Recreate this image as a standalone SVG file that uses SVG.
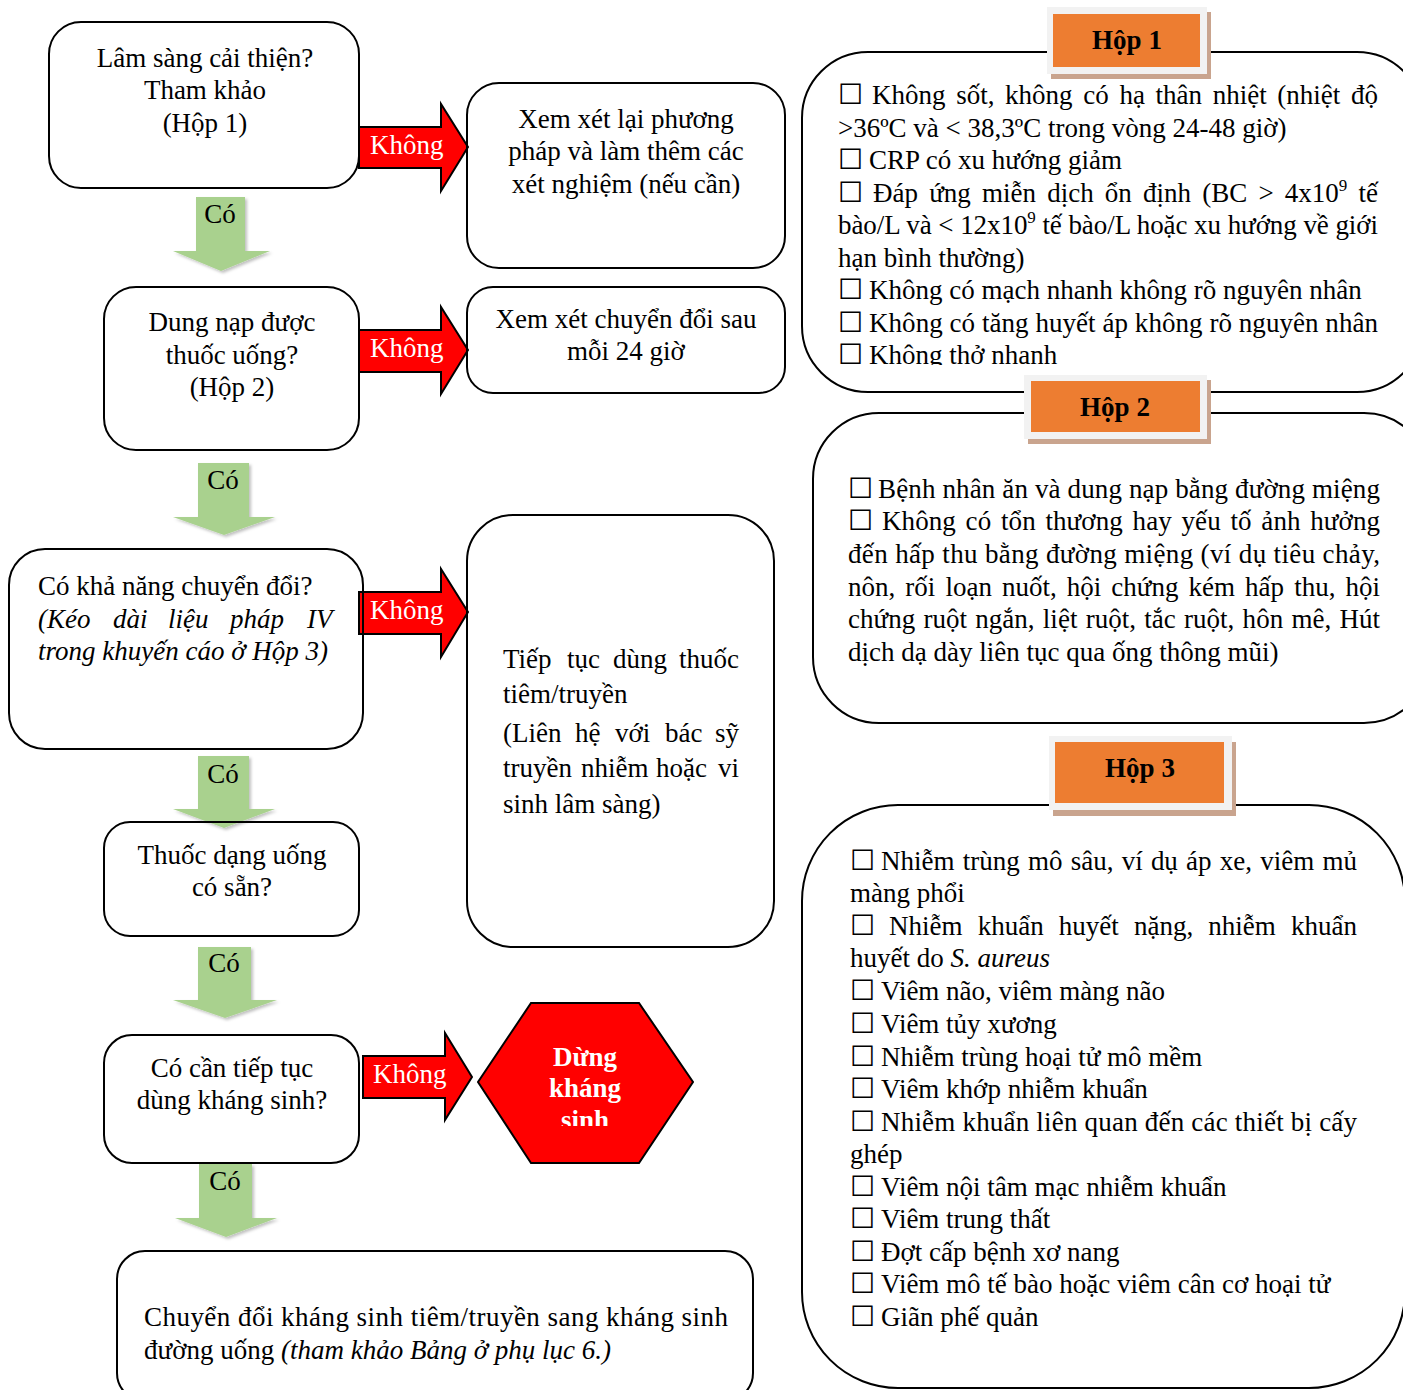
<svg xmlns="http://www.w3.org/2000/svg" width="1403" height="1390" viewBox="0 0 1403 1390">
<defs>
<style>
.t{font-family:'Liberation Serif','Times New Roman',serif;font-size:27px;fill:#000}
.c{text-anchor:middle}
.i{font-style:italic}
.w{fill:#fff}
.b{font-weight:bold}
.cb{font-family:'DejaVu Sans',sans-serif;font-size:28px;fill:#000}
.box{fill:none;stroke:#000;stroke-width:2}
.red{fill:#ff0000;stroke:#000;stroke-width:2;stroke-linejoin:miter}
.green{fill:#a9d18e;filter:url(#sh)}
.lblshadow{fill:#c9a48e}
.lblframe{fill:#f2f2f2}
.lbl{fill:#ed7d31}
</style>
<filter id="sh" x="-20%" y="-20%" width="140%" height="140%">
<feDropShadow dx="2" dy="2" stdDeviation="1.5" flood-color="#000" flood-opacity="0.25"/>
</filter>
<clipPath id="clip1"><rect x="800" y="60" width="603" height="305"/></clipPath>
<clipPath id="clipHex"><rect x="470" y="1000" width="230" height="126"/></clipPath>
</defs>
<rect x="0" y="0" width="1403" height="1390" fill="#fff"/>

<g id="connectors">
<g id="arrow-A-G">
<path class="red" d="M359,127 H441 V104 L468,147 L441,191 V168 H359 Z"/>
<text class="t w" x="370" y="154">Không</text>
</g>
<g id="arrow-B-H">
<path class="red" d="M359,330 H441 V307 L468,350 L441,394 V372 H359 Z"/>
<text class="t w" x="370" y="357">Không</text>
</g>
<g id="arrow-C-I">
<path class="red" d="M359,592 H441 V569 L468,612 L441,657 V634 H359 Z"/>
<text class="t w" x="370" y="619">Không</text>
</g>
<g id="arrow-E-stop">
<path class="red" d="M363,1056 H445 V1033 L472,1077 L445,1120 V1098 H363 Z"/>
<text class="t w" x="373" y="1083">Không</text>
</g>
<g id="arrow-A-B">
<path class="green" d="M196,197 H245 V251 H270 L221,271 L173,251 H196 Z"/>
<text class="t c" x="220" y="223">Có</text>
</g>
<g id="arrow-B-C">
<path class="green" d="M198,463 H249 V517 H275 L224,535 L173,517 H198 Z"/>
<text class="t c" x="223" y="489">Có</text>
</g>
<g id="arrow-C-D">
<path class="green" d="M198,756 H249 V809 H275 L224,828 L173,809 H198 Z"/>
<text class="t c" x="223" y="783">Có</text>
</g>
<g id="arrow-D-E">
<path class="green" d="M198,947 H251 V1000 H277 L225,1018 L173,1000 H198 Z"/>
<text class="t c" x="224" y="972">Có</text>
</g>
<g id="arrow-E-F">
<path class="green" d="M199,1164 H252 V1218 H277 L226,1237 L175,1218 H199 Z"/>
<text class="t c" x="225" y="1190">Có</text>
</g>
</g>

<g id="nodeA">
<rect class="box" x="49" y="22" width="310" height="166" rx="32"/>
<text class="t c" x="205" y="67">Lâm sàng cải thiện?</text>
<text class="t c" x="205" y="99">Tham khảo</text>
<text class="t c" x="205" y="132">(Hộp 1)</text>
</g>

<g id="nodeB">
<rect class="box" x="104" y="287" width="255" height="163" rx="32"/>
<text class="t c" x="232" y="331">Dung nạp được</text>
<text class="t c" x="232" y="364">thuốc uống?</text>
<text class="t c" x="232" y="396">(Hộp 2)</text>
</g>

<g id="nodeC">
<rect class="box" x="9" y="549" width="354" height="200" rx="36"/>
<text class="t" x="38" y="595">Có khả năng chuyển đổi?</text>
<text class="t i" y="628"><tspan x="38">(Kéo</tspan><tspan x="113">dài</tspan><tspan x="168">liệu</tspan><tspan x="230">pháp</tspan><tspan x="307">IV</tspan></text>
<text class="t i" x="38" y="660">trong khuyến cáo ở Hộp 3)</text>
</g>

<g id="nodeD">
<rect class="box" x="104" y="822" width="255" height="114" rx="26"/>
<text class="t c" x="232" y="864">Thuốc dạng uống</text>
<text class="t c" x="232" y="896">có sẵn?</text>
</g>

<g id="nodeE">
<rect class="box" x="104" y="1035" width="255" height="128" rx="28"/>
<text class="t c" x="232" y="1077">Có cần tiếp tục</text>
<text class="t c" x="232" y="1109">dùng kháng sinh?</text>
</g>

<g id="nodeF">
<rect class="box" x="117" y="1251" width="636" height="150" rx="28"/>
<text class="t" x="144" y="1326" textLength="584" lengthAdjust="spacing">Chuyển đổi kháng sinh tiêm/truyền sang kháng sinh</text>
<text class="t" x="144" y="1359">đường uống <tspan class="i">(tham khảo Bảng ở phụ lục 6.)</tspan></text>
</g>

<g id="nodeG">
<rect class="box" x="467" y="83" width="318" height="185" rx="32"/>
<text class="t c" x="626" y="128">Xem xét lại phương</text>
<text class="t c" x="626" y="160">pháp và làm thêm các</text>
<text class="t c" x="626" y="193">xét nghiệm (nếu cần)</text>
</g>

<g id="nodeH">
<rect class="box" x="467" y="287" width="318" height="106" rx="26"/>
<text class="t c" x="626" y="328">Xem xét chuyển đổi sau</text>
<text class="t c" x="626" y="360">mỗi 24 giờ</text>
</g>

<g id="nodeI">
<rect class="box" x="467" y="515" width="307" height="432" rx="46"/>
<text class="t" y="668"><tspan x="503">Tiếp</tspan><tspan x="567">tục</tspan><tspan x="613">dùng</tspan><tspan x="679">thuốc</tspan></text>
<text class="t" x="503" y="703">tiêm/truyền</text>
<text class="t" y="742"><tspan x="503">(Liên</tspan><tspan x="575">hệ</tspan><tspan x="615">với</tspan><tspan x="665">bác</tspan><tspan x="715">sỹ</tspan></text>
<text class="t" y="777"><tspan x="503">truyền</tspan><tspan x="581">nhiễm</tspan><tspan x="656">hoặc</tspan><tspan x="718">vi</tspan></text>
<text class="t" x="503" y="813">sinh lâm sàng)</text>
</g>

<g id="nodeStop">
<polygon points="531,1003 639,1003 693,1082 639,1163 531,1163 478,1082" fill="#ff0000" stroke="#000" stroke-width="2"/>
<g clip-path="url(#clipHex)">
<text class="t c w b" x="585" y="1066">Dừng</text>
<text class="t c w b" x="585" y="1097">kháng</text>
<text class="t c w b" x="585" y="1129">sinh</text>
</g>
</g>

<g id="box1">
<rect class="box" x="802" y="52" width="621" height="340" rx="66"/>
<rect class="lblshadow" x="1051" y="12" width="160" height="67"/>
<rect class="lblframe" x="1047" y="7" width="160" height="67"/>
<rect class="lbl" x="1053" y="14" width="147" height="53"/>
<text class="t c b" x="1127" y="49">Hộp 1</text>
<g clip-path="url(#clip1)">
<text class="cb" x="838" y="104">☐</text>
<text class="t" x="872" y="104" word-spacing="3.9" textLength="506" lengthAdjust="spacing">Không sốt, không có hạ thân nhiệt (nhiệt độ</text>
<text class="t" x="838" y="137">&gt;36ºC và &lt; 38,3ºC trong vòng 24-48 giờ)</text>
<text class="cb" x="838" y="169">☐</text>
<text class="t" x="869" y="169">CRP có xu hướng giảm</text>
<text class="cb" x="838" y="202">☐</text>
<text class="t" x="873" y="202" word-spacing="4.4" textLength="505" lengthAdjust="spacing">Đáp ứng miễn dịch ổn định (BC &gt; 4x10<tspan font-size="17" dy="-11">9</tspan><tspan dy="11"> tế</tspan></text>
<text class="t" x="838" y="234" textLength="540" lengthAdjust="spacing">bào/L và &lt; 12x10<tspan font-size="17" dy="-11">9</tspan><tspan dy="11"> tế bào/L hoặc xu hướng về giới</tspan></text>
<text class="t" x="838" y="267">hạn bình thường)</text>
<text class="cb" x="838" y="299">☐</text>
<text class="t" x="869" y="299">Không có mạch nhanh không rõ nguyên nhân</text>
<text class="cb" x="838" y="332">☐</text>
<text class="t" x="869" y="332" textLength="509" lengthAdjust="spacing">Không có tăng huyết áp không rõ nguyên nhân</text>
<text class="cb" x="838" y="364">☐</text>
<text class="t" x="869" y="364">Không thở nhanh</text>
</g>
</g>

<g id="box2">
<rect class="box" x="813" y="413" width="617" height="310" rx="66"/>
<rect class="lblshadow" x="1028" y="380" width="183" height="64"/>
<rect class="lblframe" x="1024" y="375" width="183" height="64"/>
<rect class="lbl" x="1031" y="381" width="169" height="51"/>
<text class="t c b" x="1115" y="416">Hộp 2</text>
<text class="cb" x="848" y="498">☐</text>
<text class="t" x="878" y="498" textLength="502" lengthAdjust="spacing">Bệnh nhân  ăn và dung nạp bằng đường miệng</text>
<text class="cb" x="848" y="530">☐</text>
<text class="t" x="882" y="530" word-spacing="2.9" textLength="498" lengthAdjust="spacing">Không có tổn thương hay yếu tố ảnh hưởng</text>
<text class="t" x="848" y="563" textLength="532" lengthAdjust="spacing">đến hấp thu bằng đường miệng (ví dụ tiêu chảy,</text>
<text class="t" x="848" y="596" word-spacing="3.3" textLength="532" lengthAdjust="spacing">nôn, rối loạn nuốt, hội chứng kém hấp thu, hội</text>
<text class="t" x="848" y="628" word-spacing="1.5" textLength="532" lengthAdjust="spacing">chứng ruột ngắn, liệt ruột, tắc ruột, hôn mê, Hút</text>
<text class="t" x="848" y="661">dịch dạ dày liên tục qua ống thông mũi)</text>
</g>

<g id="box3">
<rect class="box" x="802" y="805" width="603" height="583" rx="96"/>
<rect class="lblshadow" x="1053" y="742" width="183" height="74"/>
<rect class="lblframe" x="1049" y="736" width="183" height="74"/>
<rect class="lbl" x="1055" y="742" width="169" height="61"/>
<text class="t c b" x="1140" y="777">Hộp 3</text>
<text class="cb" x="850" y="870">☐</text>
<text class="t" x="881" y="870" word-spacing="1.5" textLength="476" lengthAdjust="spacing">Nhiễm trùng mô sâu, ví dụ áp xe, viêm mủ</text>
<text class="t" x="850" y="902">màng phổi</text>
<text class="cb" x="850" y="935">☐</text>
<text class="t" x="889" y="935" word-spacing="8.4" textLength="468" lengthAdjust="spacing">Nhiễm khuẩn huyết nặng, nhiễm khuẩn</text>
<text class="t" x="850" y="967">huyết do <tspan class="i">S. aureus</tspan></text>
<text class="cb" x="850" y="1000">☐</text>
<text class="t" x="881" y="1000">Viêm não, viêm màng não</text>
<text class="cb" x="850" y="1033">☐</text>
<text class="t" x="881" y="1033">Viêm tủy xương</text>
<text class="cb" x="850" y="1066">☐</text>
<text class="t" x="881" y="1066">Nhiễm trùng hoại tử mô mềm</text>
<text class="cb" x="850" y="1098">☐</text>
<text class="t" x="881" y="1098">Viêm khớp nhiễm khuẩn</text>
<text class="cb" x="850" y="1131">☐</text>
<text class="t" x="881" y="1131" textLength="476" lengthAdjust="spacing">Nhiễm khuẩn liên quan đến các thiết bị cấy</text>
<text class="t" x="850" y="1163">ghép</text>
<text class="cb" x="850" y="1196">☐</text>
<text class="t" x="881" y="1196">Viêm nội tâm mạc nhiễm khuẩn</text>
<text class="cb" x="850" y="1228">☐</text>
<text class="t" x="881" y="1228">Viêm trung thất</text>
<text class="cb" x="850" y="1261">☐</text>
<text class="t" x="881" y="1261">Đợt cấp bệnh xơ nang</text>
<text class="cb" x="850" y="1293">☐</text>
<text class="t" x="881" y="1293">Viêm mô tế bào hoặc viêm cân cơ hoại tử</text>
<text class="cb" x="850" y="1326">☐</text>
<text class="t" x="881" y="1326">Giãn phế quản</text>
</g>
</svg>
